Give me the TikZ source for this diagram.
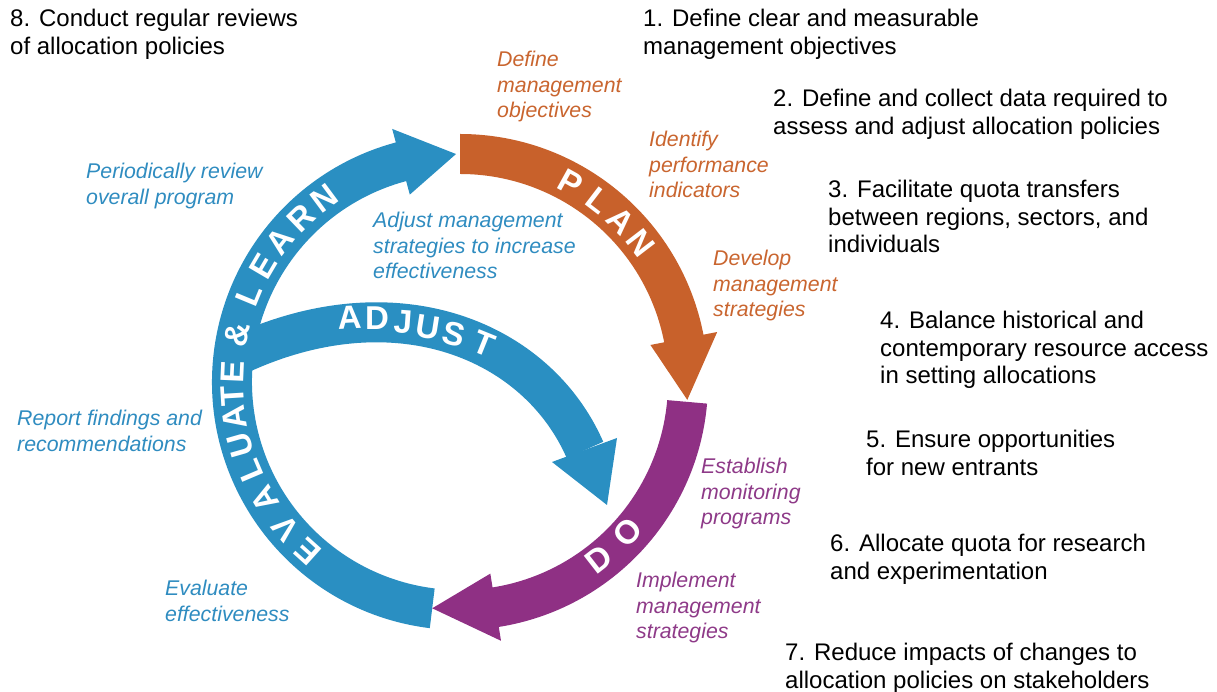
\documentclass[tikz,border=0pt]{standalone}
\usepackage{fontspec}
\setmainfont{Liberation Sans}
\definecolor{ringorange}{HTML}{C8612B}
\definecolor{ringpurple}{HTML}{8F3084}
\definecolor{ringblue}{HTML}{2A8FC2}
\definecolor{txtorange}{HTML}{C9652F}
\definecolor{txtpurple}{HTML}{8E3A88}
\definecolor{txtblue}{HTML}{2F8CC0}
\newcommand{\mylines}[1]{\begin{tabular}[t]{@{}l@{}}#1\end{tabular}}
\tikzset{
  blk/.style={anchor=base west, inner sep=0pt, font=\fontsize{24}{27.6}\selectfont, text=black},
  itl/.style={anchor=base west, inner sep=0pt, font=\fontsize{21.3}{25.3}\selectfont\itshape},
  ringlet/.style={text=white, inner sep=0pt, font=\fontsize{33}{33}\selectfont\bfseries},
}
\begin{document}
\begin{tikzpicture}[x=1pt,y=1pt]
\useasboundingbox (0,0) rectangle (1217,692);
\coordinate (C) at (460,310);
% ring segments
\begin{scope}[shift={(C)}]
  % blue: evaluate & learn
  \fill[ringblue] (263:248) arc[start angle=263, end angle=105, radius=248]
    -- (105:262) -- (91:228) -- (105:194) -- (105:208)
    arc[start angle=105, end angle=263, radius=208] -- cycle;
\end{scope}
% adjust arrow
\coordinate (a0) at (238,337);
\coordinate (a3) at (585,242);
\draw[ringblue, line width=40pt] (a0) .. controls (395.5,410.5) and (537,352) .. (a3);
\fill[ringblue] (552,230) -- (617,254) -- (607,187) -- cycle;
\begin{scope}[shift={(C)}]
  % orange: plan
  \fill[ringorange] (90:248) arc[start angle=90, end angle=11, radius=248]
    -- (11:262) -- (-4.5:228) -- (11:194) -- (11:208)
    arc[start angle=11, end angle=90, radius=208] -- cycle;
  % purple: do
  \fill[ringpurple] (-5:248) arc[start angle=-5, end angle=-81, radius=248]
    -- (-81:262) -- (-97:228) -- (-81:194) -- (-81:208)
    arc[start angle=-81, end angle=-5, radius=208] -- cycle;
  % letters
  \foreach \l/\a [count=\i] in {P/61, L/52.5, A/45, N/37.5}
    \node[ringlet, rotate=\a-90] (pl\i) at (\a:228) {\l};
  \foreach \l/\a [count=\i] in {D/-52, O/-42}
    \node[ringlet, rotate=\a+90] (do\i) at (\a:225) {\l};
  \foreach \l/\a [count=\i] in {E/228, V/220, A/211, L/203, U/196, A/189, T/183.5, E/177.5, \&/168, L/157.5, E/149.5, A/142, R/134, N/126.5}
    \node[ringlet, rotate=\a-90] (ev\i) at (\a:228) {\l};
\end{scope}
\foreach \l/\x/\y/\r [count=\i] in {A/350/374/3, D/377/374/0, J/403/370/-4, U/428/365/-9, S/454/358/-14, T/484/348/-22}
  \node[ringlet, rotate=\r] (ad\i) at (\x,\y) {\l};
% black list
\node[blk] (t8) at (10,665.5) {\mylines{8. Conduct regular reviews\\of allocation policies}};
\node[blk] (t1) at (643,665.5) {\mylines{1. Define clear and measurable\\management objectives}};
\node[blk] (t2) at (773,585.5) {\mylines{2. Define and collect data required to\\assess and adjust allocation policies}};
\node[blk] (t3) at (828,494.5) {\mylines{3. Facilitate quota transfers\\between regions, sectors, and\\individuals}};
\node[blk] (t4) at (880,363.5) {\mylines{4. Balance historical and\\contemporary resource access\\in setting allocations}};
\node[blk] (t5) at (866,244.5) {\mylines{5. Ensure opportunities\\for new entrants}};
\node[blk] (t6) at (830,140.5) {\mylines{6. Allocate quota for research\\and experimentation}};
\node[blk] (t7) at (785,31.5) {\mylines{7. Reduce impacts of changes to\\allocation policies on stakeholders}};
% italic labels
\node[itl, text=txtorange] (o1) at (497,625) {\mylines{Define\\management\\objectives}};
\node[itl, text=txtorange] (o2) at (649,545) {\mylines{Identify\\performance\\indicators}};
\node[itl, text=txtorange] (o3) at (713,426) {\mylines{Develop\\management\\strategies}};
\node[itl, text=txtpurple] (p1) at (701,218) {\mylines{Establish\\monitoring\\programs}};
\node[itl, text=txtpurple] (p2) at (636,104) {\mylines{Implement\\management\\strategies}};
\node[itl, text=txtblue] (b1) at (86,513) {\mylines{Periodically review\\overall program}};
\node[itl, text=txtblue] (b2) at (373,464) {\mylines{Adjust management\\strategies to increase\\effectiveness}};
\node[itl, text=txtblue] (b3) at (17,266) {\mylines{Report findings and\\recommendations}};
\node[itl, text=txtblue] (b4) at (165,96) {\mylines{Evaluate\\effectiveness}};
\end{tikzpicture}
\end{document}
